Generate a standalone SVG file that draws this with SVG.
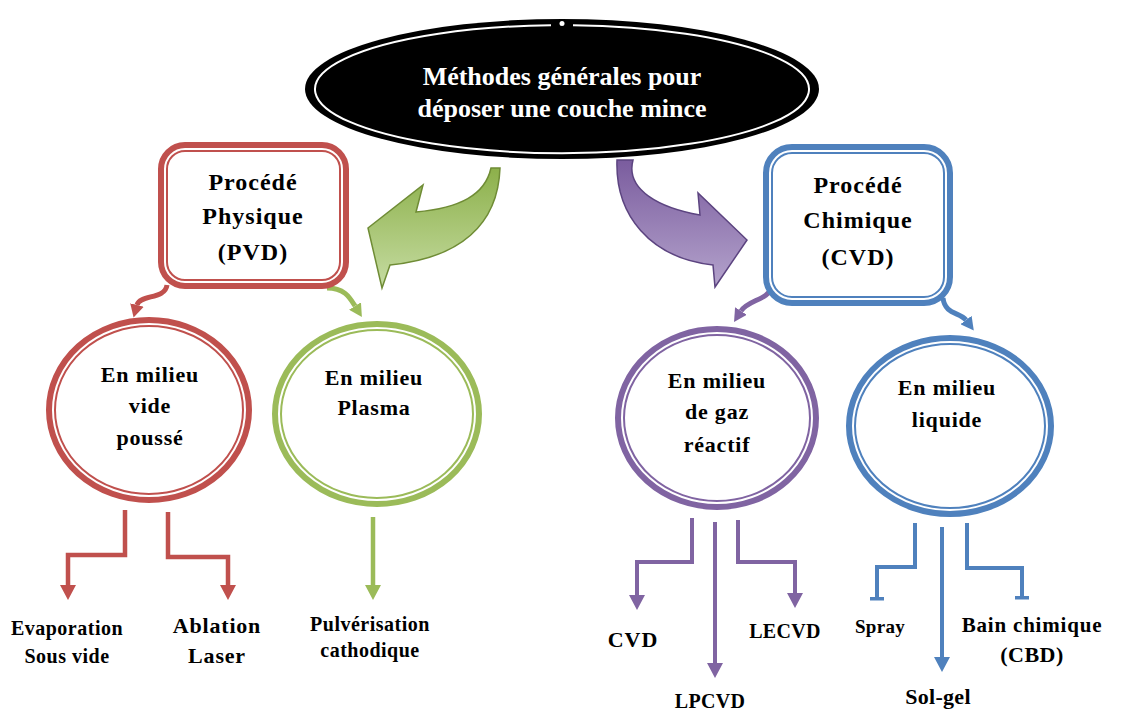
<svg xmlns="http://www.w3.org/2000/svg" width="1132" height="713" viewBox="0 0 1132 713">
<style>
.t{font-family:"Liberation Serif","Times New Roman",serif;font-weight:bold;fill:#000;text-anchor:middle}
.tw{font-family:"Liberation Serif","Times New Roman",serif;font-weight:bold;fill:#fff;text-anchor:middle;font-size:26px}
.box{font-size:24px;letter-spacing:1px}
.circ{font-size:22px;letter-spacing:0.8px}
.lbl{font-size:20px;letter-spacing:0.5px}
.lbl2{font-size:22px;letter-spacing:0.8px}
.wline{fill:none;stroke:#fff;stroke-width:2}
.cn{fill:none;stroke-linejoin:miter}
</style>
<defs>
<marker id="aR" viewBox="0 0 16 16" refX="0" refY="8" markerWidth="16" markerHeight="16" markerUnits="userSpaceOnUse" orient="auto"><path d="M0,0 L15,8 L0,16 Z" fill="#c0504d"/></marker>
<marker id="aG" viewBox="0 0 16 16" refX="0" refY="8" markerWidth="16" markerHeight="16" markerUnits="userSpaceOnUse" orient="auto"><path d="M0,0 L15,8 L0,16 Z" fill="#9bbb59"/></marker>
<marker id="aP" viewBox="0 0 16 16" refX="0" refY="8" markerWidth="16" markerHeight="16" markerUnits="userSpaceOnUse" orient="auto"><path d="M0,0 L15,8 L0,16 Z" fill="#8064a2"/></marker>
<marker id="aB" viewBox="0 0 16 16" refX="0" refY="8" markerWidth="16" markerHeight="16" markerUnits="userSpaceOnUse" orient="auto"><path d="M0,0 L15,8 L0,16 Z" fill="#4f81bd"/></marker>
<marker id="tB" viewBox="0 0 4 16" refX="1" refY="8" markerWidth="4" markerHeight="16" markerUnits="userSpaceOnUse" orient="auto"><rect x="0" y="1" width="3.5" height="14" fill="#4f81bd"/></marker>
<marker id="sR" viewBox="0 0 14 14" refX="0" refY="7" markerWidth="14" markerHeight="14" markerUnits="userSpaceOnUse" orient="auto"><path d="M0,0 L13,7 L0,14 Z" fill="#c0504d"/></marker>
<marker id="sG" viewBox="0 0 14 14" refX="0" refY="7" markerWidth="14" markerHeight="14" markerUnits="userSpaceOnUse" orient="auto"><path d="M0,0 L13,7 L0,14 Z" fill="#9bbb59"/></marker>
<marker id="sP" viewBox="0 0 14 14" refX="0" refY="7" markerWidth="14" markerHeight="14" markerUnits="userSpaceOnUse" orient="auto"><path d="M0,0 L13,7 L0,14 Z" fill="#8064a2"/></marker>
<marker id="sB" viewBox="0 0 14 14" refX="0" refY="7" markerWidth="14" markerHeight="14" markerUnits="userSpaceOnUse" orient="auto"><path d="M0,0 L13,7 L0,14 Z" fill="#4f81bd"/></marker>
<linearGradient id="gG" x1="0" y1="0" x2="0" y2="1"><stop offset="0" stop-color="#8cb04a"/><stop offset="1" stop-color="#c6dca2"/></linearGradient>
<linearGradient id="gP" x1="0" y1="0" x2="0" y2="1"><stop offset="0" stop-color="#7a5c9e"/><stop offset="1" stop-color="#b4a3cc"/></linearGradient>
</defs>

<g id="connectors">
  <path d="M500 168 C498 225 460 258 390 265 L382 288 L368 228 L423 185 L416 212 C460 208 485 195 491 168 Z" fill="url(#gG)" stroke="#6f8c35" stroke-width="1.5"/>
  <path d="M617 160 C615 215 650 258 713 265 L715 287 L747 240 L698 193 L700 215 C660 208 625 190 633 160 Z" fill="url(#gP)" stroke="#5c4480" stroke-width="1.5"/>
  <path class="cn" d="M167 285 C165 300 140 294 137 305" stroke="#c0504d" stroke-width="5" marker-end="url(#sR)"/>
  <path class="cn" d="M327 288 C345 288 350 298 355 306" stroke="#9bbb59" stroke-width="5" marker-end="url(#sG)"/>
  <path class="cn" d="M772 287 C768 300 748 300 741 311" stroke="#8064a2" stroke-width="5" marker-end="url(#sP)"/>
  <path class="cn" d="M943 298 C945 315 960 312 966 320" stroke="#4f81bd" stroke-width="5" marker-end="url(#sB)"/>
  <polyline class="cn" points="125,510 125,555 68,555 68,585" stroke="#c0504d" stroke-width="4.5" marker-end="url(#aR)"/>
  <polyline class="cn" points="168,512 168,557 228,557 228,585" stroke="#c0504d" stroke-width="4.5" marker-end="url(#aR)"/>
  <polyline class="cn" points="373,517 373,585" stroke="#9bbb59" stroke-width="4.5" marker-end="url(#aG)"/>
  <polyline class="cn" points="692,518 692,562 637,562 637,595" stroke="#8064a2" stroke-width="4" marker-end="url(#aP)"/>
  <polyline class="cn" points="715,522 715,663" stroke="#8064a2" stroke-width="4" marker-end="url(#aP)"/>
  <polyline class="cn" points="738,520 738,562 795,562 795,593" stroke="#8064a2" stroke-width="4" marker-end="url(#aP)"/>
  <polyline class="cn" points="915,523 915,567 877,567 877,598" stroke="#4f81bd" stroke-width="4" marker-end="url(#tB)"/>
  <polyline class="cn" points="942,527 942,657" stroke="#4f81bd" stroke-width="4" marker-end="url(#aB)"/>
  <polyline class="cn" points="967,523 967,568 1022,568 1022,597" stroke="#4f81bd" stroke-width="4" marker-end="url(#tB)"/>
</g>

<g id="title">
  <ellipse cx="562" cy="89" rx="257" ry="70" fill="#000"/>
  <path d="M552 25 A247 64 0 0 0 572 25" fill="none" stroke="#000" stroke-width="1"/>
  <path d="M551 25.2 A247 64 0 1 0 573 25.2" class="wline" stroke-width="2.5"/>
  <circle cx="562" cy="23.5" r="2.5" fill="#fff"/>
  <text class="tw" x="562" y="85">Méthodes générales pour</text>
  <text class="tw" x="562" y="117">déposer une couche mince</text>
</g>

<g id="pvd">
  <rect x="163" y="147" width="181" height="137" rx="22" fill="#fff" stroke="#c0504d" stroke-width="10"/>
  <rect x="165" y="149" width="177" height="133" rx="20" class="wline"/>
  <text class="t box" x="253" y="190">Procédé</text>
  <text class="t box" x="253" y="224">Physique</text>
  <text class="t box" x="253" y="260">(PVD)</text>
</g>

<g id="cvd">
  <rect x="768" y="149" width="180" height="152" rx="24" fill="#fff" stroke="#4f81bd" stroke-width="10"/>
  <rect x="770" y="151" width="176" height="148" rx="22" class="wline"/>
  <text class="t box" x="858" y="193">Procédé</text>
  <text class="t box" x="858" y="228">Chimique</text>
  <text class="t box" x="858" y="265">(CVD)</text>
</g>

<g id="vide">
  <ellipse cx="149" cy="410" rx="98" ry="88" fill="#fff" stroke="#c0504d" stroke-width="10"/>
  <ellipse cx="149" cy="410" rx="96" ry="86" class="wline"/>
  <text class="t circ" x="150" y="382">En milieu</text>
  <text class="t circ" x="150" y="413">vide</text>
  <text class="t circ" x="150" y="445">poussé</text>
</g>

<g id="plasma">
  <ellipse cx="377" cy="414" rx="100" ry="88" fill="#fff" stroke="#9bbb59" stroke-width="10"/>
  <ellipse cx="377" cy="414" rx="98" ry="86" class="wline"/>
  <text class="t circ" x="374" y="385">En milieu</text>
  <text class="t circ" x="374" y="415">Plasma</text>
</g>

<g id="gaz">
  <ellipse cx="717" cy="418" rx="97" ry="87" fill="#fff" stroke="#8064a2" stroke-width="10"/>
  <ellipse cx="717" cy="418" rx="95" ry="85" class="wline"/>
  <text class="t circ" x="717" y="388">En milieu</text>
  <text class="t circ" x="717" y="419">de gaz</text>
  <text class="t circ" x="717" y="452">réactif</text>
</g>

<g id="liquide">
  <ellipse cx="950" cy="426" rx="99" ry="86" fill="#fff" stroke="#4f81bd" stroke-width="10"/>
  <ellipse cx="950" cy="426" rx="97" ry="84" class="wline"/>
  <text class="t circ" x="947" y="395">En milieu</text>
  <text class="t circ" x="947" y="427">liquide</text>
</g>

<g id="evaporation"><text class="t lbl" x="67" y="635">Evaporation</text><text class="t lbl" x="67" y="663">Sous vide</text></g>
<g id="ablation"><text class="t lbl2" x="217" y="633">Ablation</text><text class="t lbl2" x="217" y="663">Laser</text></g>
<g id="pulverisation"><text class="t lbl" x="370" y="631">Pulvérisation</text><text class="t lbl" x="370" y="657">cathodique</text></g>
<g id="cvd-leaf"><text class="t" style="font-size:22px;letter-spacing:1px" x="633" y="647">CVD</text></g>
<g id="lpcvd"><text class="t" style="font-size:20px;letter-spacing:0.3px" x="710" y="708">LPCVD</text></g>
<g id="lecvd"><text class="t" style="font-size:20px;letter-spacing:0.3px" x="785" y="638">LECVD</text></g>
<g id="spray"><text class="t" style="font-size:19px;letter-spacing:0.3px" x="880" y="633">Spray</text></g>
<g id="solgel"><text class="t" style="font-size:22px;letter-spacing:0.3px" x="938" y="704">Sol-gel</text></g>
<g id="bain"><text class="t" style="font-size:21px;letter-spacing:0.8px" x="1032" y="632">Bain chimique</text><text class="t" style="font-size:22px;letter-spacing:0.5px" x="1032" y="662">(CBD)</text></g>
</svg>
